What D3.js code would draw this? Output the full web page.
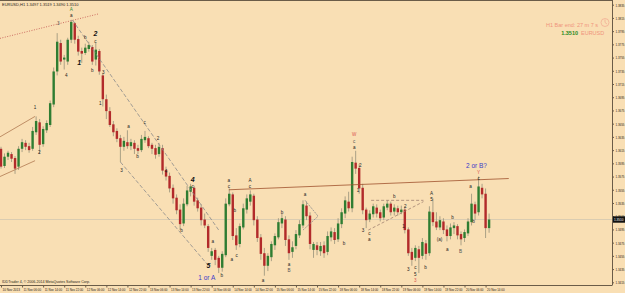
<!DOCTYPE html>
<html>
<head>
<meta charset="utf-8">
<script src="https://cdn.jsdelivr.net/npm/d3@7/dist/d3.min.js"></script>
<style>
  body { margin: 0; background: #f9dfb4; }
  svg { display: block; font-family: "Liberation Sans", "DejaVu Sans", sans-serif; }
</style>
</head>
<body>
<svg id="chart" width="625" height="293"></svg>
<script>
// EURUSD H1 candles
var opens = [1.3617,1.3591,1.3605,1.3609,1.3603,1.3590,1.3617,1.3626,1.3621,1.3617,
  1.3642,1.3657,1.3624,1.3645,1.3653,1.3684,1.3734,1.3777,1.3752,1.3749,
  1.3782,1.3807,1.3783,1.3765,1.3762,1.3768,1.3771,1.3752,1.3765,1.3728,
  1.3692,1.3674,1.3654,1.3644,1.3633,1.3620,1.3627,1.3621,1.3626,1.3618,
  1.3615,1.3630,1.3633,1.3623,1.3618,1.3609,1.3618,1.3585,1.3576,1.3558,
  1.3543,1.3525,1.3504,1.3533,1.3552,1.3558,1.3539,1.3528,1.3510,1.3500,
  1.3455,1.3464,1.3452,1.3437,1.3456,1.3533,1.3548,1.3486,1.3473,1.3498,
  1.3525,1.3537,1.3546,1.3510,1.3483,1.3459,1.3440,1.3453,1.3471,1.3483,
  1.3504,1.3510,1.3480,1.3461,1.3470,1.3486,1.3501,1.3531,1.3516,1.3464,
  1.3471,1.3462,1.3471,1.3461,1.3483,1.3491,1.3480,1.3503,1.3519,1.3537,
  1.3527,1.3596,1.3588,1.3558,1.3525,1.3510,1.3518,1.3528,1.3521,1.3513,
  1.3528,1.3534,1.3522,1.3527,1.3521,1.3525,1.3495,1.3461,1.3452,1.3465,
  1.3455,1.3474,1.3459,1.3521,1.3507,1.3498,1.3507,1.3495,1.3485,1.3497,
  1.3500,1.3488,1.3482,1.3489,1.3506,1.3533,1.3521,1.3558,1.3549,1.3497];
var highs = [1.3620,1.3610,1.3614,1.3612,1.3606,1.3621,1.3632,1.3630,1.3626,1.3650,
  1.3666,1.3662,1.3651,1.3660,1.3690,1.3740,1.3792,1.3782,1.3759,1.3785,
  1.3812,1.3809,1.3788,1.3770,1.3776,1.3779,1.3774,1.3777,1.3768,1.3731,
  1.3699,1.3680,1.3659,1.3648,1.3638,1.3635,1.3645,1.3632,1.3630,1.3623,
  1.3638,1.3644,1.3636,1.3626,1.3623,1.3626,1.3623,1.3590,1.3581,1.3563,
  1.3548,1.3533,1.3542,1.3561,1.3564,1.3561,1.3543,1.3533,1.3519,1.3503,
  1.3467,1.3467,1.3455,1.3462,1.3542,1.3557,1.3551,1.3497,1.3504,1.3534,
  1.3548,1.3554,1.3549,1.3515,1.3488,1.3467,1.3459,1.3477,1.3489,1.3512,
  1.3519,1.3515,1.3486,1.3477,1.3494,1.3509,1.3539,1.3537,1.3521,1.3476,
  1.3476,1.3476,1.3477,1.3492,1.3498,1.3497,1.3512,1.3527,1.3545,1.3552,
  1.3605,1.3614,1.3594,1.3564,1.3528,1.3524,1.3534,1.3533,1.3525,1.3534,
  1.3539,1.3537,1.3533,1.3531,1.3531,1.3530,1.3498,1.3467,1.3471,1.3470,
  1.3482,1.3479,1.3530,1.3542,1.3521,1.3515,1.3512,1.3501,1.3504,1.3506,
  1.3503,1.3492,1.3495,1.3512,1.3549,1.3537,1.3575,1.3564,1.3557,1.3519];
var lows = [1.3587,1.3588,1.3600,1.3597,1.3579,1.3585,1.3612,1.3615,1.3611,1.3614,
  1.3638,1.3609,1.3620,1.3641,1.3650,1.3680,1.3728,1.3744,1.3737,1.3744,
  1.3777,1.3776,1.3758,1.3747,1.3759,1.3764,1.3744,1.3743,1.3729,1.3681,
  1.3662,1.3650,1.3636,1.3627,1.3597,1.3614,1.3617,1.3615,1.3609,1.3609,
  1.3612,1.3626,1.3618,1.3609,1.3602,1.3605,1.3578,1.3569,1.3551,1.3534,
  1.3518,1.3494,1.3500,1.3530,1.3545,1.3531,1.3522,1.3501,1.3497,1.3461,
  1.3449,1.3441,1.3429,1.3431,1.3453,1.3530,1.3479,1.3464,1.3468,1.3495,
  1.3519,1.3531,1.3501,1.3476,1.3449,1.3425,1.3432,1.3447,1.3464,1.3480,
  1.3497,1.3470,1.3449,1.3452,1.3465,1.3482,1.3497,1.3509,1.3465,1.3452,
  1.3456,1.3455,1.3452,1.3456,1.3477,1.3473,1.3476,1.3497,1.3512,1.3522,
  1.3521,1.3579,1.3549,1.3518,1.3497,1.3506,1.3513,1.3513,1.3507,1.3509,
  1.3524,1.3516,1.3516,1.3516,1.3518,1.3489,1.3455,1.3440,1.3447,1.3429,
  1.3450,1.3449,1.3455,1.3500,1.3494,1.3494,1.3488,1.3477,1.3480,1.3488,
  1.3480,1.3471,1.3476,1.3485,1.3501,1.3509,1.3516,1.3542,1.3482,1.3490];
var closes = [1.3590,1.3605,1.3611,1.3602,1.3587,1.3617,1.3627,1.3620,1.3615,1.3644,
  1.3659,1.3623,1.3647,1.3656,1.3686,1.3734,1.3779,1.3749,1.3755,1.3782,
  1.3809,1.3782,1.3764,1.3761,1.3770,1.3774,1.3749,1.3767,1.3734,1.3692,
  1.3674,1.3653,1.3642,1.3632,1.3620,1.3629,1.3621,1.3627,1.3617,1.3614,
  1.3632,1.3635,1.3621,1.3617,1.3608,1.3620,1.3584,1.3575,1.3557,1.3542,
  1.3524,1.3503,1.3534,1.3554,1.3560,1.3537,1.3527,1.3509,1.3501,1.3467,
  1.3462,1.3449,1.3437,1.3458,1.3534,1.3549,1.3485,1.3471,1.3500,1.3527,
  1.3542,1.3548,1.3509,1.3482,1.3458,1.3440,1.3455,1.3473,1.3485,1.3506,
  1.3512,1.3479,1.3459,1.3468,1.3488,1.3503,1.3533,1.3515,1.3473,1.3473,
  1.3464,1.3470,1.3459,1.3485,1.3492,1.3479,1.3504,1.3521,1.3539,1.3527,
  1.3597,1.3587,1.3557,1.3524,1.3509,1.3519,1.3530,1.3519,1.3512,1.3530,
  1.3534,1.3521,1.3528,1.3521,1.3525,1.3494,1.3459,1.3449,1.3467,1.3452,
  1.3476,1.3458,1.3522,1.3506,1.3498,1.3509,1.3494,1.3485,1.3498,1.3501,
  1.3486,1.3480,1.3491,1.3507,1.3534,1.3519,1.3560,1.3548,1.3497,1.3510];

var priceTicks = [1.3835,1.3815,1.3795,1.3775,1.3755,1.3735,1.3715,1.3695,1.3675,1.3655,1.3635,
  1.3615,1.3595,1.3575,1.3555,1.3535,1.3515,1.3495,1.3475,1.3455,1.3435,1.3415];

var timeLabels = ["10 Nov 2013","11 Nov 06:00","11 Nov 14:00","11 Nov 22:00","12 Nov 06:00","12 Nov 14:00",
  "12 Nov 22:00","13 Nov 06:00","13 Nov 14:00","13 Nov 22:00","14 Nov 06:00","14 Nov 14:00",
  "14 Nov 22:00","15 Nov 06:00","15 Nov 14:00","15 Nov 22:00","18 Nov 06:00","18 Nov 14:00",
  "18 Nov 22:00","19 Nov 06:00","19 Nov 14:00","19 Nov 22:00","20 Nov 06:00","20 Nov 14:00"];
var barsPerLabel = 6;

// hand drawn objects: [bar index, price] pairs
var trendLines = [
  {p: [[-0.3, 1.3784], [27.7, 1.3821]], color: "#c0504d", dash: "1,1.5"},
  {p: [[-0.3, 1.3635], [9.7, 1.3666]], color: "#b07850", dash: null},
  {p: [[-0.3, 1.3575], [9.7, 1.3599]], color: "#b07850", dash: null},
  {p: [[20.3, 1.3812], [62, 1.3494]], color: "#8a8a8a", dash: "4,2"},
  {p: [[34, 1.3597], [59.1, 1.3440]], color: "#8a8a8a", dash: "4,2"},
  {p: [[64.9, 1.3555], [144.6, 1.3572]], color: "#a0522d", dash: null},
  {p: [[86.6, 1.3539], [90.3, 1.3515]], color: "#8a8a8a", dash: "2,1"},
  {p: [[86.0, 1.3494], [90.3, 1.3515]], color: "#8a8a8a", dash: "2,1"},
  {p: [[105.4, 1.3539], [120.3, 1.3539]], color: "#a08070", dash: "3,2"},
  {p: [[104.6, 1.3494], [120.3, 1.3537]], color: "#a08070", dash: "3,2"}
];

// wave labels: bar index, price, text, colour, big
var waves = [
  [20, 1.3828, "A", "#2e8b3a", 0], [20, 1.3819, "a", "#222", 0], [16.3, 1.3806, "3", "#555", 0],
  [18.6, 1.3728, "4", "#222", 0], [22.3, 1.3747, "1", "#111", 1], [24, 1.3786, "b", "#222", 0],
  [26.9, 1.3791, "2", "#111", 1], [26.9, 1.3780, "c", "#222", 0], [26, 1.3735, "b", "#222", 0],
  [29.1, 1.3732, "3", "#222", 0], [28.3, 1.3686, "1", "#222", 0], [9.7, 1.3680, "1", "#222", 0],
  [10.9, 1.3612, "2", "#222", 0], [34.3, 1.3584, "3", "#222", 0], [36.3, 1.3651, "a", "#222", 0],
  [38.9, 1.3606, "b", "#222", 0], [40.9, 1.3657, "c", "#222", 0], [44.7, 1.3632, "2", "#222", 0],
  [47, 1.3583, "4", "#222", 0], [51.4, 1.3494, "b", "#222", 0], [54.6, 1.3571, "4", "#111", 1],
  [54.6, 1.3560, "c", "#222", 0], [60.3, 1.3476, "a", "#222", 0], [59.1, 1.3440, "5", "#111", 1],
  [58.6, 1.3422, "1 or A", "#3b3bc8", 2], [62.9, 1.3425, "b", "#222", 0], [64.9, 1.3569, "a", "#222", 0],
  [64.9, 1.3560, "c", "#222", 0], [66.6, 1.3524, "b", "#222", 0], [65.7, 1.3450, "a", "#222", 0],
  [67.1, 1.3455, "c", "#222", 0], [70.9, 1.3569, "A", "#222", 0], [70.9, 1.3560, "c", "#222", 0],
  [74.6, 1.3418, "a", "#222", 0], [80, 1.3521, "b", "#222", 0], [82, 1.3442, "a", "#222", 0],
  [82, 1.3433, "B", "#555", 0], [86.6, 1.3548, "a", "#222", 0], [97.7, 1.3474, "b", "#222", 0],
  [100.6, 1.3638, "W", "#d9534f", 0], [100.6, 1.3628, "c", "#555", 0], [100.6, 1.3619, "a", "#222", 0],
  [102.3, 1.3591, "2", "#222", 0], [101.7, 1.3554, "1", "#222", 0], [103.1, 1.3494, "3", "#222", 0],
  [104.9, 1.3489, "c", "#222", 0], [104.9, 1.3480, "a", "#222", 0], [112, 1.3545, "b", "#222", 0],
  [115.1, 1.3530, "2", "#222", 0], [114.6, 1.3500, "1", "#222", 0], [116, 1.3434, "3", "#222", 0],
  [118, 1.3437, "c", "#222", 0], [118, 1.3427, "5", "#222", 0], [118, 1.3418, "3", "#d9534f", 0],
  [120.9, 1.3437, "b", "#222", 0], [122.6, 1.3550, "A", "#222", 0], [122.6, 1.3541, "5", "#222", 0],
  [124.9, 1.3480, "(a)", "#222", 0], [127.1, 1.3465, "a", "#222", 0], [128.6, 1.3513, "b", "#222", 0],
  [130.9, 1.3461, "B", "#555", 0], [133.7, 1.3560, "a", "#222", 0], [134.6, 1.3507, "b", "#222", 0],
  [135.4, 1.3591, "2 or B?", "#3b3bc8", 2], [136, 1.3581, "Y", "#d9534f", 0], [136, 1.3572, "c", "#222", 0]
];

var W = 625, H = 293;
var plotRight = 612, plotBottom = 285;
var svg = d3.select("#chart");

var x = d3.scaleLinear().domain([0, 174]).range([1, plotRight]);
var y = d3.scaleLinear().domain([1.3415, 1.3835]).range([282.3, 4.7]);

svg.append("rect").attr("width", W).attr("height", H).attr("fill", "#f9dfb4");

var last = closes.length - 1;

// bid line
svg.append("line")
  .attr("x1", 0).attr("x2", plotRight)
  .attr("y1", y(closes[last])).attr("y2", y(closes[last]))
  .attr("stroke", "#d2c6b0").attr("stroke-width", 0.8);

// candles
var bars = d3.range(closes.length);
var candle = svg.append("g").selectAll("g").data(bars).enter().append("g");

candle.append("line")
  .attr("x1", function(i) { return x(i); })
  .attr("x2", function(i) { return x(i); })
  .attr("y1", function(i) { return y(highs[i]); })
  .attr("y2", function(i) { return y(lows[i]); })
  .attr("stroke", "#a29a80").attr("stroke-width", 0.9);

candle.append("rect")
  .attr("x", function(i) { return x(i) - 1.2; })
  .attr("width", 2.4)
  .attr("y", function(i) { return y(Math.max(opens[i], closes[i])); })
  .attr("height", function(i) { return Math.max(0.8, Math.abs(y(opens[i]) - y(closes[i]))); })
  .attr("fill", function(i) { return closes[i] >= opens[i] ? "#2f7d32" : "#b22a2a"; });

// trend lines
var line = d3.line().x(function(d) { return x(d[0]); }).y(function(d) { return y(d[1]); });
svg.append("g").selectAll("path").data(trendLines).enter().append("path")
  .attr("d", function(d) { return line(d.p); })
  .attr("fill", "none")
  .attr("stroke", function(d) { return d.color; })
  .attr("stroke-width", 0.8)
  .attr("stroke-dasharray", function(d) { return d.dash; });

// wave labels
svg.append("g").selectAll("text").data(waves).enter().append("text")
  .attr("x", function(d) { return x(d[0]); })
  .attr("y", function(d) { return y(d[1]); })
  .attr("text-anchor", "middle")
  .attr("dominant-baseline", "central")
  .attr("fill", function(d) { return d[3]; })
  .style("font-size", function(d) { return d[4] == 1 ? "7px" : (d[4] == 2 ? "6.5px" : "4.6px"); })
  .style("font-weight", function(d) { return d[4] == 1 ? "bold" : "normal"; })
  .style("font-style", function(d) { return d[4] == 1 ? "italic" : "normal"; })
  .text(function(d) { return d[2]; });

// frame
svg.append("line").attr("x1", 0).attr("x2", plotRight).attr("y1", 0.5).attr("y2", 0.5)
  .attr("stroke", "#6b5c48").attr("stroke-width", 1);

// right price axis
var yAxis = svg.append("g")
  .attr("transform", "translate(" + plotRight + ",0)")
  .call(d3.axisRight(y).tickValues(priceTicks).tickSize(2).tickPadding(1.5).tickFormat(d3.format(".4f")));
yAxis.select(".domain").attr("stroke", "#6b5c48").attr("d", "M0.5,0V" + plotBottom);
yAxis.selectAll("line").attr("stroke", "#6b5c48");
yAxis.selectAll("text").style("font-size", "4.2px").attr("fill", "#2a2418")
  .attr("textLength", 9).attr("lengthAdjust", "spacingAndGlyphs");

// bottom time axis
var tickIdx = timeLabels.map(function(t, k) { return k * barsPerLabel; });
var xAxis = svg.append("g")
  .attr("transform", "translate(0," + plotBottom + ")")
  .call(d3.axisBottom(x).tickValues(tickIdx).tickSize(2.5).tickPadding(1)
    .tickFormat(function(d, k) { return timeLabels[k]; }));
xAxis.select(".domain").attr("stroke", "#6b5c48").attr("d", "M0," + 0.5 + "H" + (plotRight + 0.5));
xAxis.selectAll("line").attr("stroke", "#6b5c48");
xAxis.selectAll("text").style("font-size", "4.2px").attr("fill", "#2a2418")
  .attr("text-anchor", "start").attr("dx", "1")
  .attr("textLength", 17.5).attr("lengthAdjust", "spacingAndGlyphs");

// current price marker
var cy = y(closes[last]);
svg.append("rect").attr("x", plotRight + 1).attr("y", cy - 3.2).attr("width", W - plotRight - 1).attr("height", 6.4)
  .attr("fill", "#111");
svg.append("text").attr("x", plotRight + 2).attr("y", cy).attr("dominant-baseline", "central")
  .style("font-size", "4.2px").attr("fill", "#fff")
  .attr("textLength", 9.5).attr("lengthAdjust", "spacingAndGlyphs").text(closes[last].toFixed(4));

// header + footer text
var f4 = d3.format(".4f");
svg.append("text").attr("x", 2).attr("y", 6).style("font-size", "4px").attr("fill", "#2a2418")
  .text("EURUSD,H1  " + f4(opens[last]) + " " + f4(highs[last]) + " " + f4(lows[last]) + " " + f4(closes[last]));
svg.append("text").attr("x", 2).attr("y", 282.5).style("font-size", "3.6px").attr("fill", "#2a2418")
  .text("IDDTrader 4, \u00a9 2006-2014 MetaQuotes Software Corp.");

// bar timer panel
svg.append("text").attr("x", 598).attr("y", 27).attr("text-anchor", "end")
  .style("font-size", "5.5px").attr("fill", "#f0947c").text("H1 Bar end: 27 m 7 s");
svg.append("circle").attr("cx", 605).attr("cy", 22.5).attr("r", 4)
  .attr("fill", "none").attr("stroke", "#f0a890").attr("stroke-width", 0.7);
svg.append("path").attr("d", "M605,19.5V22.5L607,24").attr("fill", "none")
  .attr("stroke", "#f0a890").attr("stroke-width", 0.7);
svg.append("text").attr("x", 578).attr("y", 35).attr("text-anchor", "end")
  .style("font-size", "5.5px").style("font-weight", "bold").attr("fill", "#2a8a1e").text(f4(closes[last]));
svg.append("text").attr("x", 581).attr("y", 35)
  .style("font-size", "5.5px").attr("fill", "#f0947c").text("EURUSD");
</script>
</body>
</html>
